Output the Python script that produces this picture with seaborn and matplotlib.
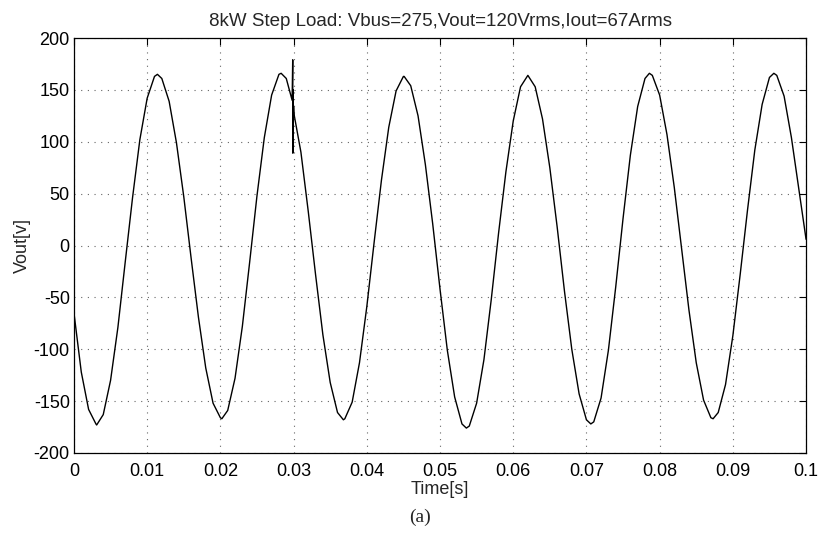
import numpy as np
import pandas as pd
import seaborn as sns
import matplotlib
matplotlib.use("Agg")
import matplotlib.pyplot as plt

# (time in s, voltage in V)
time_s = [0.000, 0.001, 0.002, 0.003, 0.0031, 0.004, 0.005, 0.006, 0.007, 0.008,
          0.009, 0.010, 0.011, 0.0114, 0.012, 0.013, 0.014, 0.015, 0.016, 0.017,
          0.018, 0.019, 0.020, 0.0202, 0.021, 0.022, 0.023, 0.024, 0.025, 0.026,
          0.027, 0.028, 0.0283, 0.029, 0.0298, 0.02988, 0.02990, 0.02993, 0.02996,
          0.0300, 0.0301, 0.031, 0.032, 0.033, 0.034, 0.035, 0.036, 0.0368,
          0.037, 0.038, 0.039, 0.040, 0.041, 0.042, 0.043, 0.044, 0.045, 0.0451,
          0.046, 0.047, 0.048, 0.049, 0.050, 0.051, 0.052, 0.053, 0.0536, 0.054,
          0.055, 0.056, 0.057, 0.058, 0.059, 0.060, 0.061, 0.062, 0.063, 0.064,
          0.065, 0.066, 0.067, 0.068, 0.069, 0.070, 0.0706, 0.071, 0.072, 0.073,
          0.074, 0.075, 0.076, 0.077, 0.078, 0.0786, 0.079, 0.080, 0.081, 0.082,
          0.083, 0.084, 0.085, 0.086, 0.087, 0.0873, 0.088, 0.089, 0.090, 0.091,
          0.092, 0.093, 0.094, 0.095, 0.0956, 0.096, 0.097, 0.098, 0.099, 0.100]
vout_v = [-65, -122, -158, -172, -173, -163, -130, -79, -16, 46,
          102, 142, 163, 165, 161, 139, 99, 47, -12, -69,
          -118, -152, -166, -167, -159, -128, -78, -16, 48, 104,
          145, 165, 166, 161, 140, 179, 89, 150, 128, 134, 125, 90, 33, -28, -86,
          -132, -161, -168,
          -167, -151, -113, -59, 3, 63, 114, 149, 163, 163,
          154, 125, 78, 21, -42, -101, -146, -172, -176, -174,
          -152, -110, -52, 12, 71, 120, 153, 164, 153, 122,
          75, 18, -44, -100, -143, -168, -172, -170, -147, -101,
          -40, 26, 87, 134, 161, 166, 164, 145, 107, 56,
          -3, -62, -113, -149, -166, -167, -161, -134, -87, -28,
          34, 92, 136, 162, 166, 164, 144, 104, 55, 6]

x_ticks = [0, 0.01, 0.02, 0.03, 0.04, 0.05, 0.06, 0.07, 0.08, 0.09, 0.1]
x_tick_labels = ["0", "0.01", "0.02", "0.03", "0.04", "0.05", "0.06", "0.07", "0.08", "0.09", "0.1"]
y_ticks = [-200, -150, -100, -50, 0, 50, 100, 150, 200]

df = pd.DataFrame({"t": time_s, "v": vout_v})

sns.set_theme(style="white")
plt.rcParams["font.family"] = ["Liberation Sans", "DejaVu Sans"]
plt.rcParams["axes.unicode_minus"] = False

fig = plt.figure(figsize=(8.2, 5.34), dpi=100)
ax = fig.add_axes([0.0902, 0.1517, 0.8928, 0.7771])

sns.lineplot(data=df, x="t", y="v", ax=ax, color="black", linewidth=1.0,
             sort=False, estimator=None)

ax.set_xlim(0, 0.1)
ax.set_ylim(-200, 200)
ax.set_xticks(x_ticks)
ax.set_xticklabels(x_tick_labels)
ax.set_yticks(y_ticks)
ax.tick_params(direction="in", length=5, width=0.8, colors="black",
               labelsize=13, top=True, right=True, pad=3)
ax.tick_params(axis="x", pad=7)
ax.grid(True, linestyle=(0, (1, 5)), color="#666666", linewidth=0.8)
for s in ax.spines.values():
    s.set_color("black")
    s.set_linewidth(0.9)

ax.set_xlabel("Time[s]", fontsize=13, labelpad=1)
ax.set_ylabel("Vout[v]", fontsize=13, labelpad=2)
ax.set_title("8kW Step Load: Vbus=275,Vout=120Vrms,Iout=67Arms", fontsize=13.5, pad=9)

fig.text(0.512, 0.032, "(a)", fontsize=14, family=["Liberation Serif", "DejaVu Serif"],
         ha="center", va="center")

fig.savefig("out.png", dpi=100)
